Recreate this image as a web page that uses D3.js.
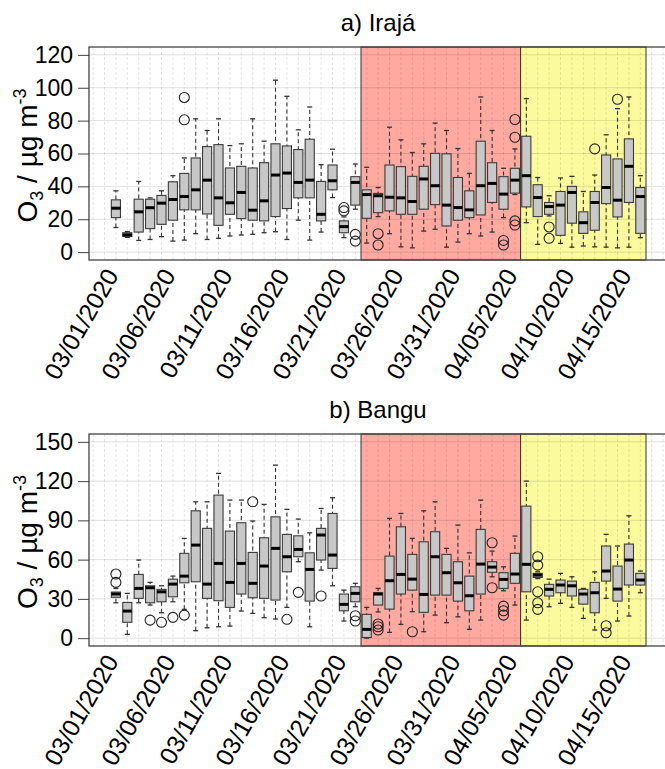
<!DOCTYPE html>
<html>
<head>
<meta charset="utf-8">
<script src="https://cdn.jsdelivr.net/npm/d3@7"></script>
<style>
body { margin: 0; background: #fff; }
text { font-family: "Liberation Sans", Arial, sans-serif; fill: #000; }
</style>
</head>
<body>
<div id="chart"></div>
<script>
var days = ["03/01/2020","03/02/2020","03/03/2020","03/04/2020","03/05/2020","03/06/2020","03/07/2020","03/08/2020","03/09/2020","03/10/2020",
	"03/11/2020","03/12/2020","03/13/2020","03/14/2020","03/15/2020","03/16/2020","03/17/2020","03/18/2020","03/19/2020","03/20/2020",
	"03/21/2020","03/22/2020","03/23/2020","03/24/2020","03/25/2020","03/26/2020","03/27/2020","03/28/2020","03/29/2020","03/30/2020",
	"03/31/2020","04/01/2020","04/02/2020","04/03/2020","04/04/2020","04/05/2020","04/06/2020","04/07/2020","04/08/2020","04/09/2020",
	"04/10/2020","04/11/2020","04/12/2020","04/13/2020","04/14/2020","04/15/2020","04/16/2020"];

var tickDays = ["03/01/2020","03/06/2020","03/11/2020","03/16/2020","03/21/2020","03/26/2020","03/31/2020","04/05/2020","04/10/2020","04/15/2020"];

// periods shaded in both panels (first and last day)
var redPeriod = ["03/23/2020", "04/05/2020"];
var yellowPeriod = ["04/06/2020", "04/16/2020"];

// [min, q1, median, q3, max] per day
var irajaStats = [
	[15,21,26.7,31.8,37.3],[9,9.5,10.5,11.8,12.5],[7.1,12.2,24.5,32.2,43],[7.7,14.3,27,32.2,33],[9.4,16.9,29.8,34.5,37.3],
	[6.7,19.4,32,42.8,46.5],[7.3,25.7,33.8,47.9,57.3],[11.2,25.7,37.9,57.3,81.1],[7.7,23.2,43.8,64.2,74],[8.4,16.3,33,65.4,81.1],
	[9.8,23,30,51.2,64.8],[10.4,20.4,36.3,52.2,65.9],[10.8,19.4,25.5,51.2,81.1],[11.8,19,31.2,54.4,67.5],[12.4,21.6,46.9,65.9,104.6],
	[7.7,26.5,48.1,64.6,94.8],[19.4,33,42.4,62.4,74.4],[7.3,33,43.8,68.7,88.3],[12.2,19,23,43,53.2],[33.2,37.9,43.4,53,62.6],
	[8.8,11.8,15.5,19,21.4],[26.1,28.6,42.4,45.9,53.6],[5.5,20.6,35,37.9,51.6],[21.6,24,34.3,35.7,39.3],[11.2,25.1,33.4,53,76],
	[3.2,23,33,52,68.3],[2.6,23,30.8,46.1,60.6],[12.8,26.1,44.5,52.2,65.9],[13.9,28.9,40.4,60.1,78.5],[3,15.9,28.6,59.8,74],
	[6.1,19.4,27.1,45.4,63],[11.2,21,25.7,37.3,47.9],[9.8,22.6,40.4,67.5,94.4],[12.2,30.2,41.8,54.4,74],[21,26.1,35.3,45.9,51],
	[35,35.9,43.8,51,62.8],[17.9,27.5,46.5,70.5,93.4],[4.7,21.6,33.2,41,45.4],[22,23,27.7,30.2,34.3],[5.3,10.2,28.6,36.9,45.1],
	[3,17.6,36.3,40,46.1],[3.7,11.4,17.9,24.5,36.9],[3.2,13.3,30.2,36.9,46.9],[3,29.5,39.3,59.1,71.4],[2.6,21.4,31.6,56.7,87.3],
	[3,30.2,52.2,68.9,94.4],[8.8,11.4,33.8,39.3,46.5]
];
// [day, value]
var irajaOut = [
	["03/07/2020",94.1],["03/07/2020",80.5],["03/21/2020",27.1],["03/21/2020",25.1],["03/22/2020",10.8],["03/22/2020",6.7],
	["03/24/2020",11.2],["03/24/2020",4.3],["04/04/2020",7.1],["04/04/2020",4.3],["04/05/2020",80.7],["04/05/2020",69.9],
	["04/05/2020",19],["04/05/2020",16.5],["04/08/2020",15.3],["04/08/2020",8.4],["04/12/2020",62.8],["04/14/2020",93]
];

var banguStats = [
	[27,31.2,33.7,35.2,38],[2.9,12.1,20.7,27.3,34.2],[27,30.4,38,48.7,59.7],[25.3,27,38.5,40,42.6],[19.4,27.8,35.4,37.3,40],
	[27.8,31.6,41.3,45.1,47.4],[22,42.3,47.4,64.8,76.2],[5.7,43.1,71.1,97.3,104.2],[7.9,30.4,41.3,83.9,104.2],[8.7,28.6,57.1,109.3,125.9],
	[9.2,23.5,42.6,81.8,105.5],[20.7,33.7,57.1,88.2,105.5],[18.9,30.9,41.9,65.5,89.5],[15.6,30.4,55.1,76.7,102.2],[14.6,29.1,68.6,92.7,132.2],
	[23.5,50.7,62.2,79.3,98.4],[58.4,62.2,67.8,78.2,91],[8.7,28.3,52.5,65.2,80.5],[52,59.7,78.8,83.9,99.1],[40,53.3,63.5,95.3,107.3],
	[13.1,20.9,25.8,33.7,36.7],[24,27.8,34.2,39.3,41.9],[0,0.5,6.7,18.2,23.5],[20,25.3,33.7,34.7,38],[4.4,22.2,43.9,62.7,91.5],
	[10.5,33.7,48.7,85.1,95.3],[20.2,36.7,45.1,64,76.2],[4.9,19.7,33.4,73.6,97.3],[17.6,32.9,62.2,81.3,104.2],[11.8,32.9,50,64,68.6],
	[16.3,28.3,42.3,58.4,86.4],[6.7,20.9,32.4,47.4,65.2],[13.8,33.7,56.6,83.1,105.5],[46.9,50.3,54.3,58.4,66.5],[36.2,38,44.9,50,54.5],
	[25.3,41.9,49,64.8,78],[13.8,35.4,56.4,100.9,120],[45.5,46.4,48.2,49.5,50.7],[24,32.2,37.3,41.1,45.1],[26.6,34.7,40.6,44.4,49.5],
	[23.5,32.2,40,43.6,46.9],[15.1,26,33.7,37.3,38],[6.2,19.4,34.7,42.6,50.7],[30.4,43.6,51.3,70.4,79.3],[13.1,28.3,37.5,55.1,70.4],
	[16.9,40.6,59.7,71.9,93.5],[34.7,40.6,44.4,49.5,51.3]
];
var banguOut = [
	["03/01/2020",49],["03/01/2020",42.6],["03/04/2020",13.8],["03/05/2020",12.1],["03/06/2020",15.9],["03/07/2020",17.6],
	["03/13/2020",104.2],["03/16/2020",14.4],["03/17/2020",35],["03/19/2020",32.2],["03/22/2020",17.1],["03/22/2020",13.1],
	["03/24/2020",10.8],["03/24/2020",8.7],["03/24/2020",6.2],["03/27/2020",4.9],["04/03/2020",72.9],["04/03/2020",38.5],
	["04/04/2020",24.5],["04/04/2020",20.9],["04/04/2020",17.6],["04/07/2020",62.2],["04/07/2020",55.8],["04/07/2020",35.4],
	["04/07/2020",27],["04/07/2020",22],["04/13/2020",9.5],["04/13/2020",4.1]
];

var irajaTicks = [0, 20, 40, 60, 80, 100, 120];
var banguTicks = [0, 30, 60, 90, 120, 150];

var W = 665, H = 769;
var svg = d3.select("#chart").append("svg")
	.attr("width", W)
	.attr("height", H);

var left = 89, right = 667;
var pos = function(day) { return days.indexOf(day); };
var x = d3.scaleLinear().domain([-2.36, 48.34]).range([left, right]);
var step = x(1) - x(0);

function panel(opts) {
	var y = d3.scaleLinear().domain(opts.domain).range([opts.bottom, opts.top]);
	var g = svg.append("g");

	// title
	g.append("text")
		.attr("x", (left + right) / 2)
		.attr("y", opts.top - 16)
		.attr("text-anchor", "middle")
		.style("font-size", "24px")
		.text(opts.title);

	// shaded periods
	[[redPeriod, "#ffa9a1"], [yellowPeriod, "#fbfb9e"]].forEach(function(p) {
		g.append("rect")
			.attr("x", x(pos(p[0][0]) - 0.5))
			.attr("y", opts.top)
			.attr("width", x(pos(p[0][1]) + 0.5) - x(pos(p[0][0]) - 0.5))
			.attr("height", opts.bottom - opts.top)
			.style("fill", p[1])
			.style("stroke", "#333")
			.style("stroke-width", 1);
	});

	// grid
	g.append("g").selectAll("line")
		.data(d3.range(-2, 49))
		.enter().append("line")
			.attr("x1", function(d) { return x(d); })
			.attr("x2", function(d) { return x(d); })
			.attr("y1", opts.top)
			.attr("y2", opts.bottom)
			.style("stroke", "rgba(0,0,0,0.13)")
			.style("stroke-dasharray", "3,2")
			.style("stroke-width", 0.8);
	g.append("g").selectAll("line")
		.data(opts.ticks)
		.enter().append("line")
			.attr("x1", left)
			.attr("x2", right)
			.attr("y1", function(d) { return y(d); })
			.attr("y2", function(d) { return y(d); })
			.style("stroke", "rgba(0,0,0,0.12)")
			.style("stroke-width", 1);

	// boxes
	var box = g.append("g").selectAll("g")
		.data(opts.stats)
		.enter().append("g")
			.attr("transform", function(d, i) { return "translate(" + x(i) + ",0)"; });
	var bw = step * 0.8;

	box.append("line")
		.attr("y1", function(d) { return y(d[0]); })
		.attr("y2", function(d) { return y(d[4]); })
		.style("stroke", "#333")
		.style("stroke-dasharray", "4,3")
		.style("stroke-width", 1.1);
	[0, 4].forEach(function(k) {
		box.append("line")
			.attr("x1", -2.5).attr("x2", 2.5)
			.attr("y1", function(d) { return y(d[k]); })
			.attr("y2", function(d) { return y(d[k]); })
			.style("stroke", "#333")
			.style("stroke-width", 1.3);
	});
	box.append("rect")
		.attr("x", -bw / 2)
		.attr("width", bw)
		.attr("y", function(d) { return y(d[3]); })
		.attr("height", function(d) { return Math.max(1, y(d[1]) - y(d[3])); })
		.style("fill", "#c8c8c8")
		.style("stroke", "#3a3a3a")
		.style("stroke-width", 1.1);
	box.append("line")
		.attr("x1", -bw / 2).attr("x2", bw / 2)
		.attr("y1", function(d) { return y(d[2]); })
		.attr("y2", function(d) { return y(d[2]); })
		.style("stroke", "#000")
		.style("stroke-width", 3);

	// outliers
	g.append("g").selectAll("circle")
		.data(opts.outliers)
		.enter().append("circle")
			.attr("cx", function(d) { return x(pos(d[0])); })
			.attr("cy", function(d) { return y(d[1]); })
			.attr("r", 5)
			.style("fill", "none")
			.style("stroke", "#222")
			.style("stroke-width", 1.1);

	// frame
	g.append("rect")
		.attr("x", left).attr("y", opts.top)
		.attr("width", right - left).attr("height", opts.bottom - opts.top)
		.style("fill", "none")
		.style("stroke", "#444")
		.style("stroke-width", 1.3);

	// y axis
	var yAxis = g.append("g")
		.attr("transform", "translate(" + left + ",0)")
		.call(d3.axisLeft(y).tickValues(opts.ticks).tickSize(11).tickPadding(5));
	yAxis.select(".domain").remove();
	yAxis.selectAll("line").style("stroke", "#444");
	yAxis.selectAll("text")
		.style("font-size", "23px")
		.style("font-family", "'Liberation Sans', Arial, sans-serif");

	var yl = g.append("text")
		.attr("transform", "translate(37," + ((opts.top + opts.bottom) / 2 + 2) + ") rotate(-90)")
		.attr("text-anchor", "middle")
		.style("font-size", "28px");
	yl.append("tspan").text("O");
	yl.append("tspan").attr("dy", 6).style("font-size", "18px").text("3");
	yl.append("tspan").attr("dy", -6).text(" / µg m");
	yl.append("tspan").attr("dy", -11).style("font-size", "18px").text("-3");

	// x labels
	g.append("g").selectAll("text")
		.data(tickDays)
		.enter().append("text")
			.attr("transform", function(d) {
				return "translate(" + (x(pos(d)) - 4) + "," + (opts.bottom + 11) + ") rotate(-60)";
			})
			.attr("text-anchor", "end")
			.attr("dy", "0.35em")
			.style("font-size", "24.5px")
			.text(function(d) { return d; });
}

panel({title: "a) Irajá", top: 47, bottom: 260, domain: [-4.8, 124.8], ticks: irajaTicks,
	stats: irajaStats, outliers: irajaOut});
panel({title: "b) Bangu", top: 434, bottom: 646, domain: [-6, 156], ticks: banguTicks,
	stats: banguStats, outliers: banguOut});
</script>
</body>
</html>
